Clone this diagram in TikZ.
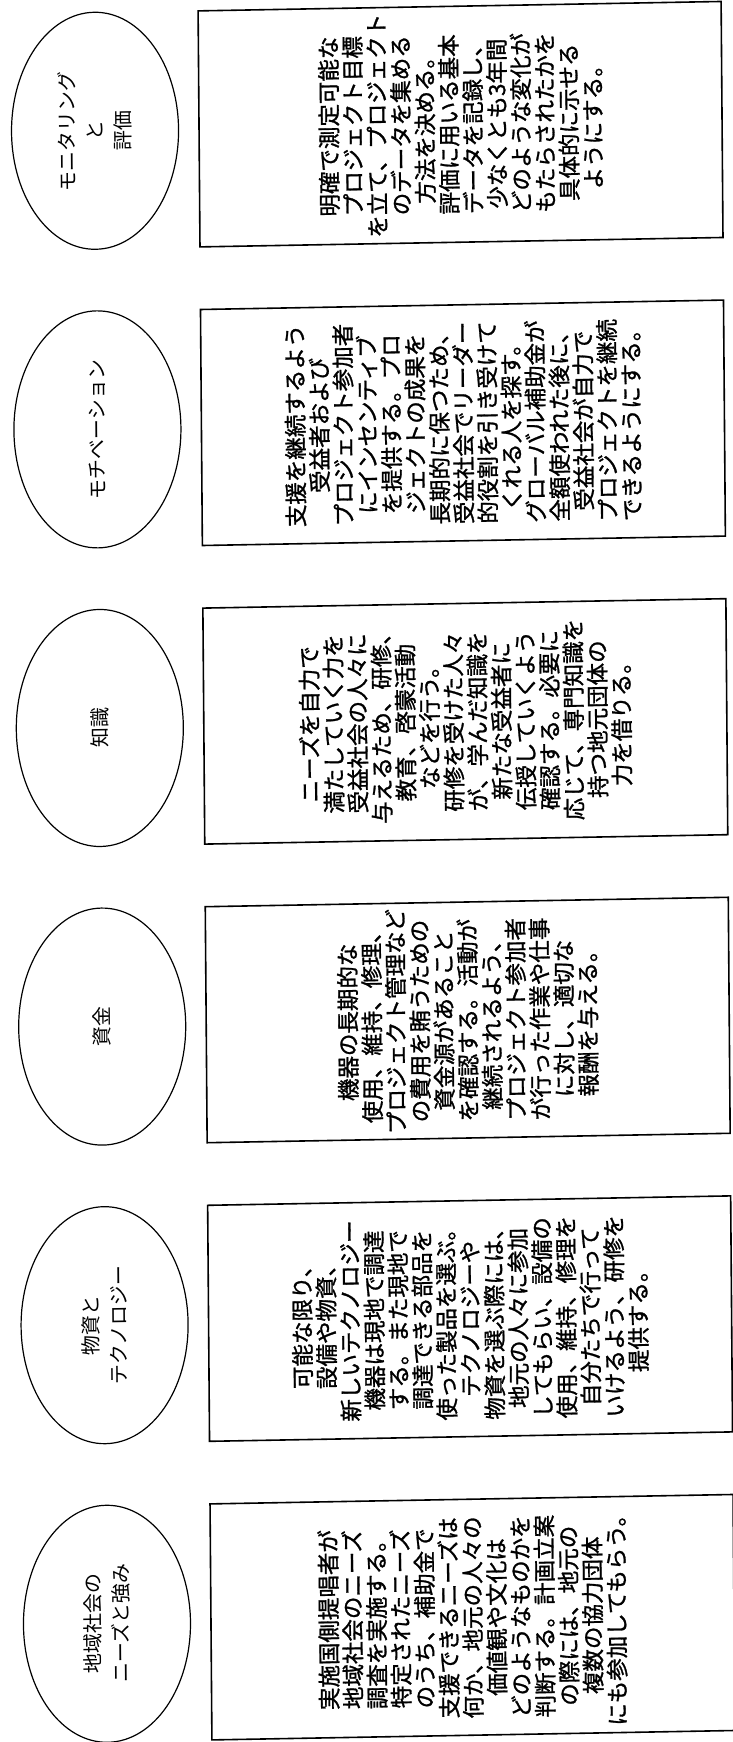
\documentclass[tikz,border=0pt]{standalone}
\usepackage{fontspec}
\newfontfamily\jp{Noto Sans CJK JP}
\newfontfamily\jpb{Noto Sans CJK JP}[FakeBold=1.2]
\usetikzlibrary{shapes.geometric}
\begin{document}
\begin{tikzpicture}[x=1pt,y=1pt,
  oval/.style={draw, line width=1.2pt, ellipse, minimum width=237pt, minimum height=167pt,
    rotate=90, inner sep=0pt, align=center, font=\jp\fontsize{20}{28}\selectfont},
  panel/.style={draw, line width=1.6pt, rectangle, minimum width=236pt, minimum height=523pt,
    rotate=90, inner sep=0pt},
  body/.style={rotate=90, align=center, inner sep=0pt, font=\jpb\fontsize{22.5}{24}\selectfont}]
\useasboundingbox (0,0) rectangle (733,-1742);
\fill[white] (0,0) rectangle (733,-1742);
\begin{scope}[cm={1,0.018,-0.008,1,(-6.968pt,-6.588pt)}, every node/.append style={transform shape}]
% row 1
\node[oval]  (e1) at (101,-126) {モニタリング\\と\\評価};
\node[panel] (b1) at (466.5,-126) {};
\node[body]  (t1) at (b1.center) {明確で測定可能な\\プロジェクト目標\\を立て、プロジェクト\\のデータを集める\\方法を決める。\\評価に用いる基本\\データを記録し、\\少なくとも3年間\\どのような変化が\\もたらされたかを\\具体的に示せる\\ようにする。};
% row 2
\node[oval]  (e2) at (101,-424.6) {モチベーション};
\node[panel] (b2) at (466.5,-424.6) {};
\node[body]  (t2) at (b2.center) {支援を継続するよう\\受益者および\\プロジェクト参加者\\にインセンティブ\\を提供する。プロ\\ジェクトの成果を\\長期的に保つため、\\受益社会でリーダー\\的役割を引き受けて\\くれる人を探す。\\グローバル補助金が\\全額使われた後に、\\受益社会が自力で\\プロジェクトを継続\\できるようにする。};
% row 3
\node[oval]  (e3) at (101,-723.2) {知識};
\node[panel] (b3) at (466.5,-723.2) {};
\node[body]  (t3) at (b3.center) {ニーズを自力で\\満たしていく力を\\受益社会の人々に\\与えるため、研修、\\教育、啓蒙活動\\などを行う。\\研修を受けた人々\\が、学んだ知識を\\新たな受益者に\\伝授していくよう\\確認する。必要に\\応じて、専門知識を\\持つ地元団体の\\力を借りる。};
% row 4
\node[oval]  (e4) at (101,-1021.8) {資金};
\node[panel] (b4) at (466.5,-1021.8) {};
\node[body]  (t4) at (b4.center) {機器の長期的な\\使用、維持、修理、\\プロジェクト管理など\\の費用を賄うための\\資金源があること\\を確認する。活動が\\継続されるよう、\\プロジェクト参加者\\が行った作業や仕事\\に対し、適切な\\報酬を与える。};
% row 5
\node[oval]  (e5) at (101,-1320.4) {物資と\\テクノロジー};
\node[panel] (b5) at (466.5,-1320.4) {};
\node[body]  (t5) at (b5.center) {可能な限り、\\設備や物資、\\新しいテクノロジー\\機器は現地で調達\\する。また現地で\\調達できる部品を\\使った製品を選ぶ。\\テクノロジーや\\物資を選ぶ際には、\\地元の人々に参加\\してもらい、設備の\\使用、維持、修理を\\自分たちで行って\\いけるよう、研修を\\提供する。};
% row 6
\node[oval]  (e6) at (101,-1619) {地域社会の\\ニーズと強み};
\node[panel] (b6) at (466.5,-1619) {};
\node[body]  (t6) at (b6.center) {実施国側提唱者が\\地域社会のニーズ\\調査を実施する。\\特定されたニーズ\\のうち、補助金で\\支援できるニーズは\\何か、地元の人々の\\価値観や文化は\\どのようなものかを\\判断する。計画立案\\の際には、地元の\\複数の協力団体\\にも参加してもらう。};
\end{scope}
\end{tikzpicture}
\end{document}
